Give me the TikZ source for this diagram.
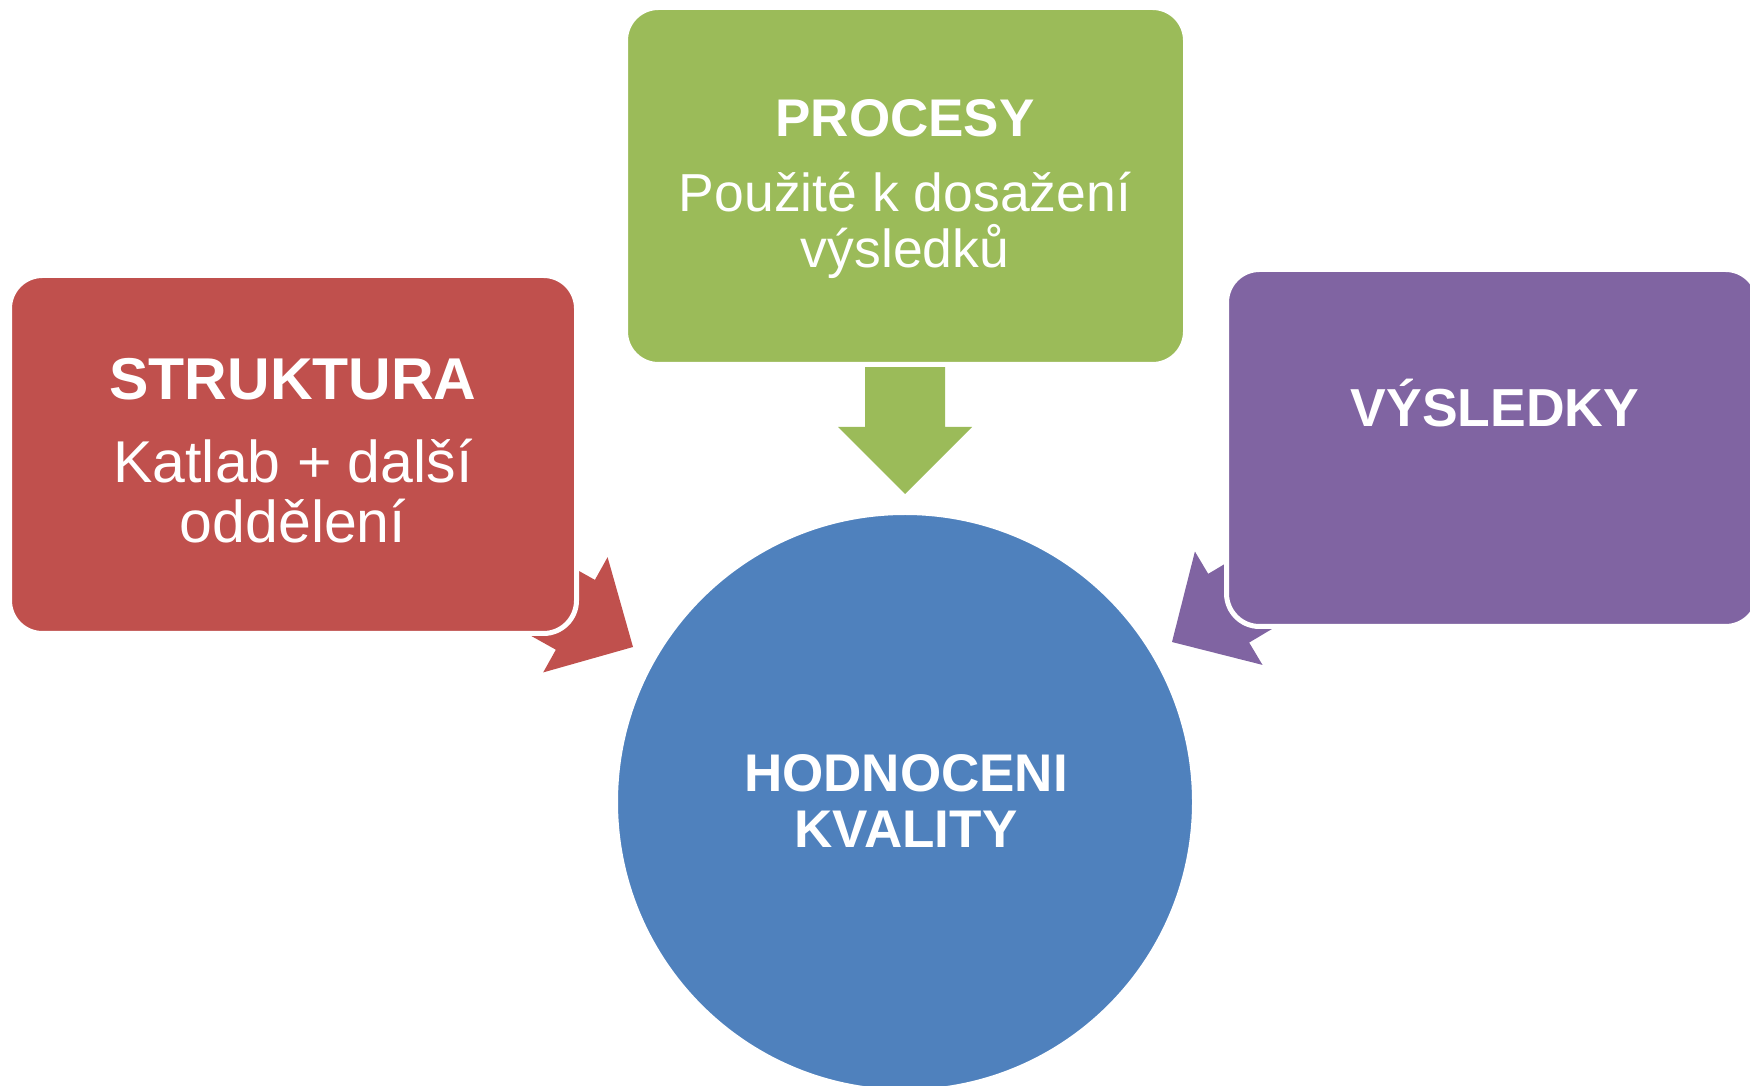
\documentclass[tikz,border=0pt]{standalone}
\usepackage{fontspec}
\setmainfont{Liberation Sans}
\definecolor{cred}{HTML}{C0504D}
\definecolor{cgreen}{HTML}{9BBB59}
\definecolor{cpurple}{HTML}{8064A2}
\definecolor{cblue}{HTML}{4F81BD}
\begin{document}
\begin{tikzpicture}[x=1pt,y=1pt,
  box/.style={rectangle, rounded corners=33pt, draw=white, line width=5pt, inner sep=0pt},
  ttl/.style={text=white, font=\bfseries\fontsize{#1}{#1}\selectfont, anchor=base, inner sep=0pt},
  bdy/.style={text=white, font=\fontsize{#1}{#1}\selectfont, anchor=base, inner sep=0pt}]
\useasboundingbox (0,0) rectangle (1750,1085);
\clip (0,0) rectangle (1750,1085);
% block arrows (drawn first, partly hidden by the boxes)
\coordinate (gtip) at (905,591);
\coordinate (rtip) at (633,438);
\coordinate (ptip) at (1172,443);
\begin{scope}[shift={(gtip)}, rotate=-90]
  \fill[cgreen] (0,0) -- (-67,67) -- (-67,40) -- (-128,40) -- (-128,-40) -- (-67,-40) -- (-67,-67) -- cycle;
\end{scope}
\begin{scope}[shift={(rtip)}, rotate=-29.2]
  \fill[cred] (0,0) -- (-66,66) -- (-66,40) -- (-220,40) -- (-220,-40) -- (-66,-40) -- (-66,-66) -- cycle;
\end{scope}
\begin{scope}[shift={(ptip)}, rotate=210.8]
  \fill[cpurple] (0,0) -- (-66,66) -- (-66,40) -- (-220,40) -- (-220,-40) -- (-66,-40) -- (-66,-66) -- cycle;
\end{scope}
% boxes
\node[box, fill=cred, minimum width=567, minimum height=358] (struk) at (293,630.5) {};
\node[box, fill=cgreen, minimum width=560, minimum height=357] (proc) at (905.5,899) {};
\node[box, fill=cpurple, minimum width=532, minimum height=357] (vysl) at (1492.5,637) {};
\node[circle, fill=cblue, draw=white, line width=5pt, minimum size=579, inner sep=0pt] (hodn) at (905,283) {};
% texts
\node[ttl=59] (t1) at (293,685) {STRUKTURA};
\node[bdy=59] (t2) at (293,602) {Katlab + další};
\node[bdy=59] (t3) at (293,542) {oddělení};
\node[ttl=53] (t4) at (905,948) {PROCESY};
\node[bdy=53.5] (t5) at (905,873) {Použité k dosažení};
\node[bdy=53.5] (t6) at (905,817) {výsledků};
\node[ttl=53.5] (t7) at (1495,658) {VÝSLEDKY};
\node[ttl=53] (t8) at (906,294) {HODNOCENI};
\node[ttl=53] (t9) at (906,238) {KVALITY};
\end{tikzpicture}
\end{document}
